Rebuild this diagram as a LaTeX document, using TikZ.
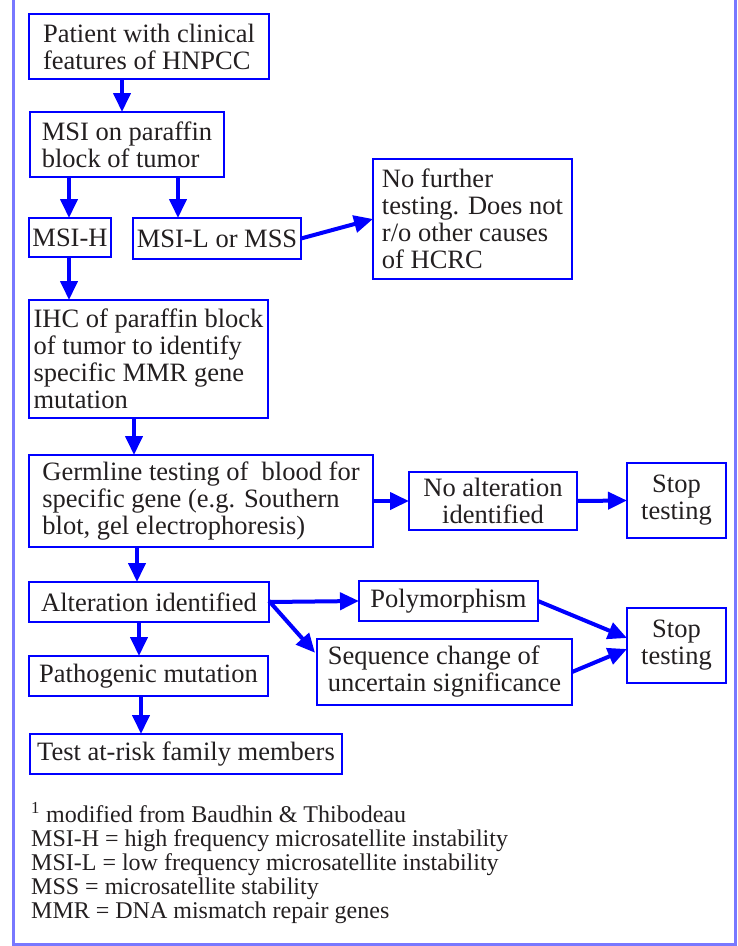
\documentclass[tikz,border=0pt]{standalone}
\usepackage{fontspec}
\setmainfont{Liberation Serif}
\usetikzlibrary{arrows.meta}
\definecolor{bxc}{RGB}{0,0,255}
\definecolor{frc}{RGB}{120,120,255}
\definecolor{txc}{RGB}{35,31,32}
\begin{document}
\begin{tikzpicture}[x=1pt,y=-1pt,
  bx/.style={draw=bxc, line width=2.6pt, anchor=north west, outer sep=0pt, inner sep=0pt,
    align=left, text=txc, font=\fontsize{26.5}{27}\selectfont},
  arr/.style={draw=bxc, line width=4pt, -{Triangle[length=19pt,width=17pt]}},
  legend/.style={anchor=north west, align=left, inner sep=0pt, text=txc,
    font=\fontsize{24}{24}\selectfont}
]
\useasboundingbox (0,0) rectangle (738,946);
\draw[frc, line width=3.5pt] (13.5,0) -- (13.5,944.5) -- (735.5,944.5) -- (735.5,0);

\node[bx, minimum width=240pt, minimum height=65pt] (b1) at (29,14) {Patient with clinical\\features of HNPCC};
\node[bx, minimum width=194pt, minimum height=65pt] (b2) at (30,112) {MSI on paraffin\\block of tumor};
\node[bx, minimum width=82pt, minimum height=39pt] (h) at (29,218) {MSI-H};
\node[bx, minimum width=168pt, minimum height=41pt] (l) at (133,218) {MSI-L or MSS};
\node[bx, minimum width=199pt, minimum height=120pt] (nf) at (373,159) {No further\\testing. Does not\\r/o other causes\\of HCRC};
\node[bx, minimum width=239pt, minimum height=118pt] (ihc) at (29,300) {IHC of paraffin block\\of tumor to identify\\specific MMR gene\\mutation};
\node[bx, minimum width=344pt, minimum height=92pt] (g) at (29,455) {Germline testing of\ \ blood for\\specific gene (e.g. Southern\\blot, gel electrophoresis)};
\node[bx, minimum width=168pt, minimum height=58pt, align=center] (na) at (409,472) {No alteration\\identified};
\node[bx, minimum width=99pt, minimum height=75pt, align=center] (s1) at (627,463) {Stop\\testing};
\node[bx, minimum width=240pt, minimum height=40pt] (alt) at (29,582) {Alteration identified};
\node[bx, minimum width=179pt, minimum height=40pt] (poly) at (359,581) {Polymorphism};
\node[bx, minimum width=255pt, minimum height=66pt] (seq) at (317,639) {Sequence change of\\uncertain significance};
\node[bx, minimum width=99pt, minimum height=75pt, align=center] (s2) at (627,608) {Stop\\testing};
\node[bx, minimum width=239pt, minimum height=40pt] (patho) at (29,656) {Pathogenic mutation};
\node[bx, minimum width=312pt, minimum height=40pt] (test) at (30,734) {Test at-risk family members};

\draw[arr] ([xshift=93pt]b1.south west) -- ([xshift=92pt]b2.north west);
\draw[arr] ([xshift=39pt]b2.south west) -- ([xshift=40pt]h.north west);
\draw[arr] ([xshift=148pt]b2.south west) -- ([xshift=45pt]l.north west);
\draw[arr] ([xshift=40pt]h.south west) -- ([xshift=40pt]ihc.north west);
\draw[arr] (l.east) -- (nf.west);
\draw[arr] ([xshift=105pt]ihc.south west) -- ([xshift=105pt]g.north west);
\draw[arr] (g.east) -- (na.west);
\draw[arr] (na.east) -- (s1.west);
\draw[arr] ([xshift=108pt]g.south west) -- ([xshift=108pt]alt.north west);
\draw[arr] (alt.east) -- (poly.west);
\draw[arr, shorten >=3pt] ([yshift=1pt]alt.east) -- ([yshift=-16pt]seq.north west);
\draw[arr] (poly.east) -- ([yshift=7.5pt]s2.west);
\draw[arr] (seq.east) -- ([yshift=-3.5pt]s2.west);
\draw[arr] ([xshift=110pt]alt.south west) -- ([xshift=110pt]patho.north west);
\draw[arr] ([xshift=112pt]patho.south west) -- ([xshift=111pt]test.north west);

\node[legend] (leg) at (31,802) {\textsuperscript{1} modified from Baudhin \& Thibodeau\\
MSI-H = high frequency microsatellite instability\\
MSI-L = low frequency microsatellite instability\\
MSS = microsatellite stability\\
MMR = DNA mismatch repair genes};
\end{tikzpicture}
\end{document}
